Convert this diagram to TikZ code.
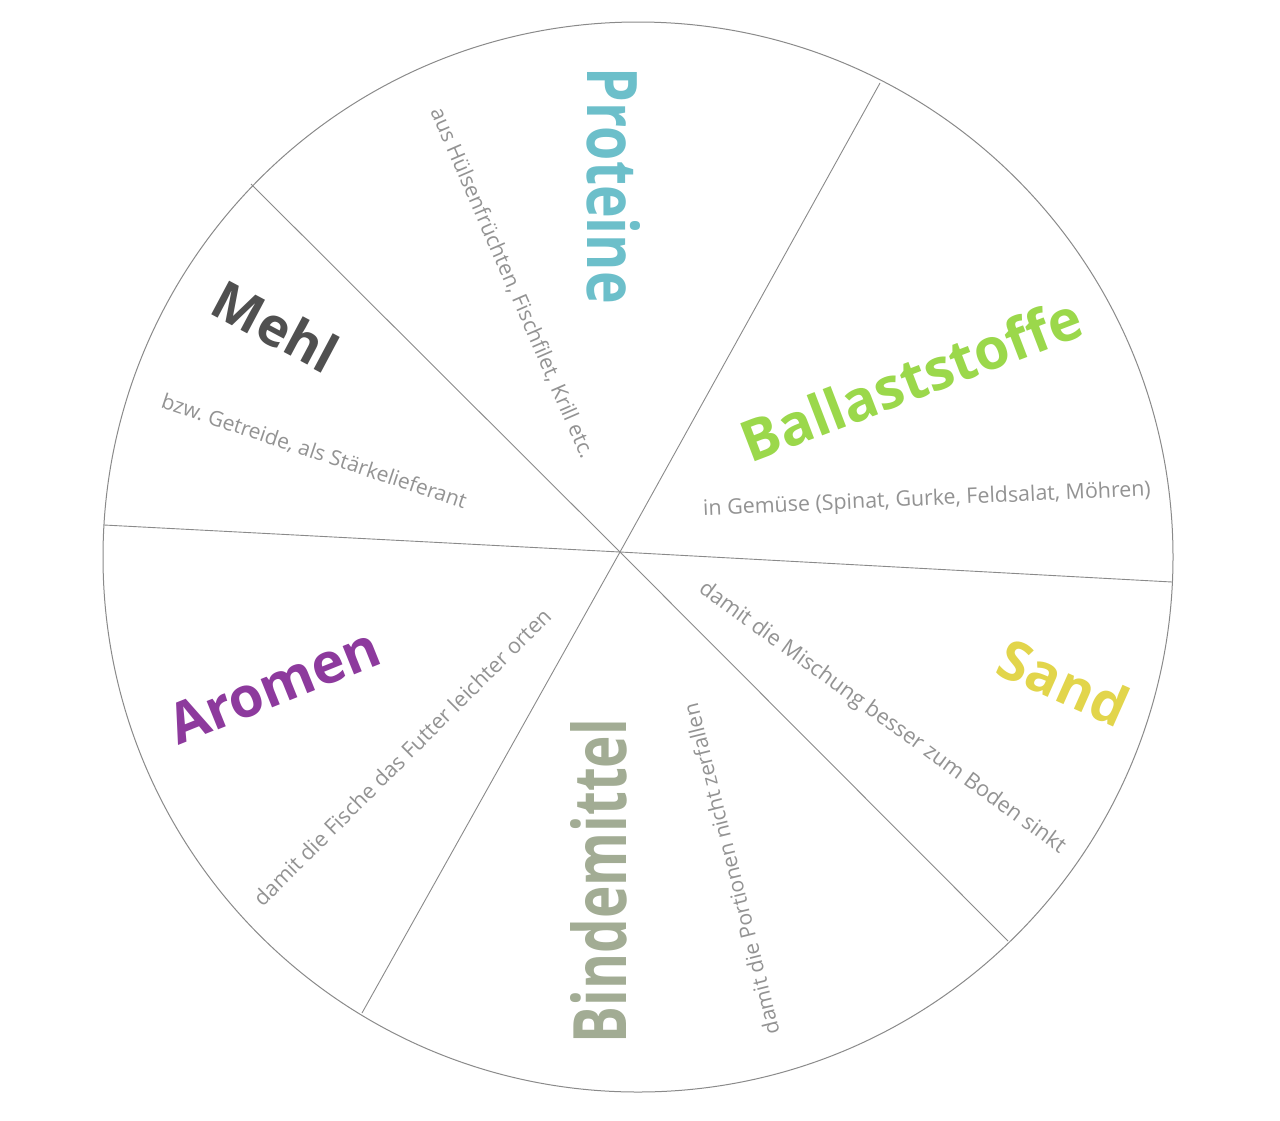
\documentclass[tikz,border=0pt]{standalone}
\usepackage{fontspec}
\setmainfont{Open Sans}
\usepackage{graphicx}
\definecolor{protc}{HTML}{6CBFCA}
\definecolor{ballc}{HTML}{9BD84B}
\definecolor{mehlc}{HTML}{505050}
\definecolor{sandc}{HTML}{E2D54B}
\definecolor{aromc}{HTML}{8D3A9D}
\definecolor{bindc}{HTML}{A2AC94}
\definecolor{subgray}{HTML}{939393}
\definecolor{linegray}{HTML}{8A8A8A}
\newcommand\fitw[2]{\resizebox{#1pt}{!}{#2}}
\newcommand\fitwh[3]{\resizebox{#1pt}{#2pt}{#3}}
\tikzset{
  titletext/.style={inner sep=0pt, font=\bfseries},
  subtext/.style={inner sep=0pt, text=subgray},
  divider/.style={draw=linegray, line width=0.9pt},
  rim/.style={draw=linegray, line width=1pt, circle, minimum size=1070pt, inner sep=0pt},
}
\begin{document}
\begin{tikzpicture}[x=1pt,y=-1pt]
\useasboundingbox (0,0) rectangle (1280,1120);
\fill[white] (0,0) rectangle (1280,1120);
% rim
\node[rim] (rim) at (638,557) {};
% centre and spoke ends
\coordinate (c) at (620,552);
\coordinate (e1) at (880,83);
\coordinate (e2) at (1172,582);
\coordinate (e3) at (1008,941);
\coordinate (e4) at (362,1013);
\coordinate (e5) at (104,525);
\coordinate (e6) at (251,184);
\foreach \e in {e1,e2,e3,e4,e5,e6} \draw[divider] (c) -- (\e);
% titles
\node[titletext, text=protc, rotate=-90] (proteine) at (614,186) {\fitwh{236}{53}{Proteine}};
\node[titletext, text=ballc, rotate=21] (ballast) at (911,379) {\fitw{360}{Ballaststoffe}};
\node[titletext, text=mehlc, rotate=-28] (mehl) at (276,326) {\fitw{133}{Mehl}};
\node[titletext, text=sandc, rotate=-24] (sand) at (1064,682) {\fitw{135}{Sand}};
\node[titletext, text=aromc, rotate=22] (aromen) at (274,686) {\fitw{222}{Aromen}};
\node[titletext, text=bindc, rotate=90] (binde) at (599,881) {\fitwh{324}{56}{Bindemittel}};
% subtitles
\node[subtext, rotate=-66.5] (subprot) at (512,283) {\fitw{380}{aus Hülsenfrüchten, Fischfilet, Krill etc.}};
\node[subtext, rotate=2.5] (subball) at (927,500) {\fitw{448}{in Gemüse (Spinat, Gurke, Feldsalat, Möhren)}};
\node[subtext, rotate=-18.5] (submehl) at (314,452) {\fitw{320}{bzw.\ Getreide, als Stärkelieferant}};
\node[subtext, rotate=-36] (subsand) at (882,718) {\fitw{447}{damit die Mischung besser zum Boden sinkt}};
\node[subtext, rotate=45] (subarom) at (402,757) {\fitw{410}{damit die Fische das Futter leichter orten}};
\node[subtext, rotate=104] (subbind) at (731,869) {\fitw{340}{damit die Portionen nicht zerfallen}};
\end{tikzpicture}
\end{document}
